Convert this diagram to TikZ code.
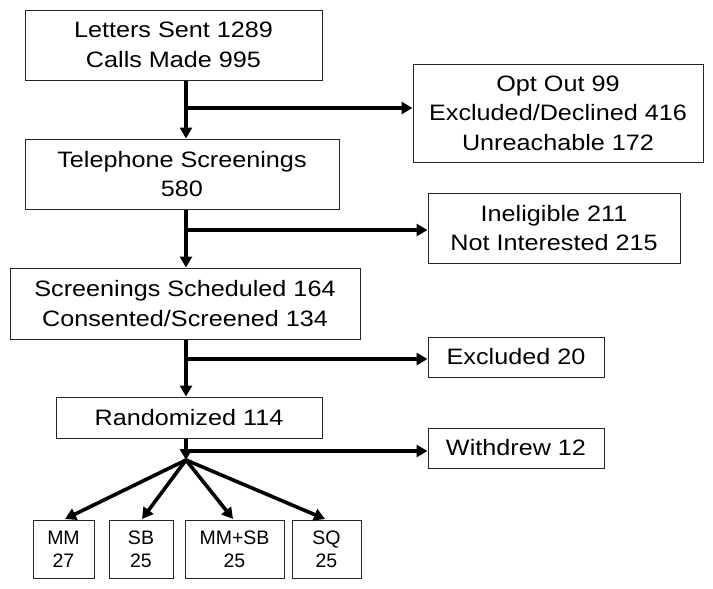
\documentclass[tikz,border=0pt]{standalone}
\usepackage{fontspec}
\setmainfont{Liberation Sans}
\newfontfamily\widef{Liberation Sans}[FakeStretch=1.13]
\usetikzlibrary{arrows.meta}
\begin{document}
\begin{tikzpicture}[x=1pt,y=-1pt,
  box/.style={draw=black!85, line width=1pt, rectangle, inner sep=0pt, align=center,
    font=\widef\fontsize{22.3}{29.5}\selectfont},
  smallbox/.style={draw=black!85, line width=1pt, rectangle, inner sep=0pt, align=center,
    font=\fontsize{19.5}{23}\selectfont, minimum height=58pt},
  conn/.style={line width=3.6pt, -{Triangle[length=11pt,width=12pt]}},
  plain/.style={line width=3.6pt}]
\useasboundingbox[fill=white] (0,0) rectangle (713,589);

\node[box, minimum width=297pt, minimum height=70pt] (b1) at (173.5,45) {Letters Sent 1289\\Calls Made 995};
\node[box, minimum width=314pt, minimum height=70pt] (b2) at (182,174) {Telephone Screenings\\580};
\node[box, minimum width=350pt, minimum height=71pt] (b3) at (185,303.5) {Screenings Scheduled 164\\Consented/Screened 134};
\node[box, minimum width=266pt, minimum height=41pt] (b4) at (189,417.5) {Randomized 114};

\node[box, minimum width=290pt, minimum height=98pt] (opt) at (558,113) {Opt Out 99\\Excluded/Declined 416\\Unreachable 172};
\node[box, minimum width=252pt, minimum height=70pt] (inel) at (554,228) {Ineligible 211\\Not Interested 215};
\node[box, minimum width=176pt, minimum height=40pt] (excl) at (516,357) {Excluded 20};
\node[box, minimum width=176pt, minimum height=40pt] (withd) at (516,448) {Withdrew 12};

\node[smallbox, minimum width=61pt] (mm) at (63.5,549) {MM\\27};
\node[smallbox, minimum width=64pt] (sb) at (141,549) {SB\\25};
\node[smallbox, minimum width=99pt] (mmsb) at (234.5,549) {MM+SB\\25};
\node[smallbox, minimum width=69pt] (sq) at (326.5,549) {SQ\\25};

\coordinate (sp) at (186,0);
\coordinate (j1) at (186,108);
\coordinate (j2) at (186,230);
\coordinate (j3) at (186,359);
\coordinate (j4) at (186,451);
\coordinate (fan) at (186,460);

\draw[conn] (b1.south -| sp) -- (b2.north -| sp);
\draw[conn] (b2.south -| sp) -- (b3.north -| sp);
\draw[conn] (b3.south -| sp) -- (b4.north -| sp);
\draw[conn] (b4.south -| sp) -- (fan);

\draw[conn] ([xshift=-1.8pt]j1) -- (j1 -| opt.west);
\draw[conn] ([xshift=-1.8pt]j2) -- (j2 -| inel.west);
\draw[conn] ([xshift=-1.8pt]j3) -- (j3 -| excl.west);
\draw[conn] ([xshift=-1.8pt]j4) -- (j4 -| withd.west);

\coordinate (tmm) at (65,519);
\coordinate (tsb) at (142,519);
\coordinate (tmmsb) at (233,519);
\coordinate (tsq) at (325,519);
\draw[conn] (fan) -- (tmm);
\draw[conn] (fan) -- (tsb);
\draw[conn] (fan) -- (tmmsb);
\draw[conn] (fan) -- (tsq);
\end{tikzpicture}
\end{document}
